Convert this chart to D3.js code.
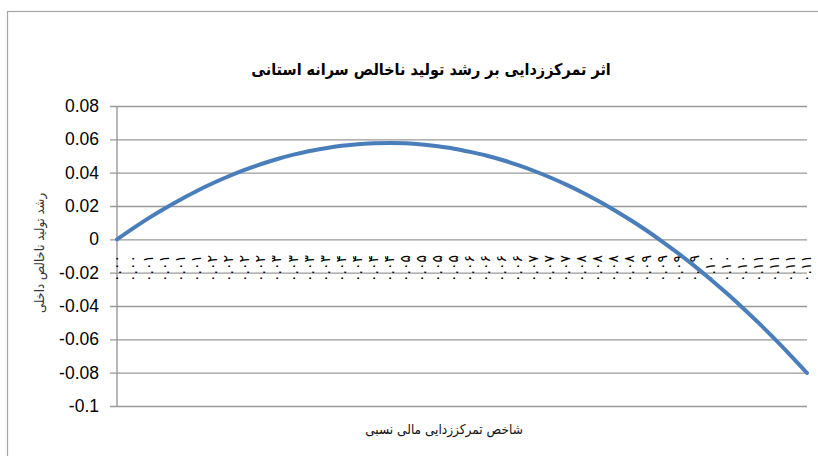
<!DOCTYPE html>
<html>
<head>
<meta charset="utf-8">
<script src="https://cdn.jsdelivr.net/npm/d3@7"></script>
<style>
  body { margin: 0; background: #fff; }
  svg { display: block; }
</style>
</head>
<body>
<div class="graph"></div>
<script>
// category labels along the x axis (rounded index values)
const xLabels = [
  "۰.۰۰","۰.۰۰",
  "۰.۰۱","۰.۰۱","۰.۰۱","۰.۰۱",
  "۰.۰۲","۰.۰۲","۰.۰۲","۰.۰۲",
  "۰.۰۳","۰.۰۳","۰.۰۳","۰.۰۳",
  "۰.۰۴","۰.۰۴","۰.۰۴","۰.۰۴",
  "۰.۰۵","۰.۰۵","۰.۰۵","۰.۰۵",
  "۰.۰۶","۰.۰۶","۰.۰۶","۰.۰۶",
  "۰.۰۷","۰.۰۷","۰.۰۷",
  "۰.۰۸","۰.۰۸","۰.۰۸","۰.۰۸",
  "۰.۰۹","۰.۰۹","۰.۰۹","۰.۰۹",
  "۰.۱۰","۰.۱۰","۰.۱۰",
  "۰.۱۱","۰.۱۱","۰.۱۱","۰.۱۱"
];

// growth values
const growth = [
  0, 0.0066, 0.0129, 0.0187, 0.0241, 0.0292, 0.0338, 0.0380, 0.0418, 0.0452,
  0.0482, 0.0508, 0.0530, 0.0547, 0.0561, 0.0571, 0.0576, 0.0578, 0.0576, 0.0569,
  0.0558, 0.0544, 0.0525, 0.0503, 0.0476, 0.0445, 0.0410, 0.0371, 0.0328, 0.0281,
  0.0230, 0.0175, 0.0116, 0.0053, -0.0015, -0.0086, -0.0161, -0.0241, -0.0324, -0.0412,
  -0.0503, -0.0599, -0.0699, -0.0802
];

const yTicks = [0.08, 0.06, 0.04, 0.02, 0, -0.02, -0.04, -0.06, -0.08, -0.1];
const yTickLabels = ["0.08", "0.06", "0.04", "0.02", "0", "-0.02", "-0.04", "-0.06", "-0.08", "-0.1"];

const chartTitle = "اثر تمرکززدایی بر رشد تولید ناخالص سرانه استانی";
const xTitle = "شاخص تمرکززدایی مالی نسبی";
const yTitle = "رشد تولید ناخالص داخلی";

let width = 818;
let height = 456;
let plotLeft = 117, plotRight = 807, plotTop = 106, plotBottom = 406;

let svg = d3.select(".graph")
  .append("svg")
  .attr("width", width)
  .attr("height", height);

// chart area border
svg.append("rect")
  .attr("x", 7.5).attr("y", 11.5)
  .attr("width", 840).attr("height", 480)
  .attr("fill", "none")
  .attr("stroke", "#a6a6a6")
  .attr("stroke-width", 1.2);

let x = d3.scalePoint()
  .domain(d3.range(growth.length))
  .range([plotLeft, plotRight]);

let y = d3.scaleLinear()
  .domain([-0.1, 0.08])
  .range([plotBottom, plotTop]);

// gridlines + tick marks
let yAxis = d3.axisLeft(y)
  .tickValues(yTicks)
  .tickSize(-(plotRight - plotLeft))
  .tickSizeOuter(0)
  .tickPadding(18)
  .tickFormat((d, i) => yTickLabels[i]);

let gy = svg.append("g")
  .attr("transform", "translate(" + plotLeft + ",0)")
  .call(yAxis);

gy.select(".domain").remove();
gy.selectAll(".tick line")
  .attr("x1", -7)
  .attr("stroke", "#999")
  .attr("stroke-width", 1.4);
gy.selectAll(".tick text")
  .attr("font-family", "Liberation Sans, Arial, sans-serif")
  .attr("font-size", 17.5)
  .attr("fill", "#000");

// vertical axis line
svg.append("line")
  .attr("x1", plotLeft).attr("x2", plotLeft)
  .attr("y1", plotTop).attr("y2", plotBottom)
  .attr("stroke", "#999")
  .attr("stroke-width", 1.4);

// category labels, rotated, reading upward from below the -0.02 line
svg.append("g")
  .selectAll("text")
  .data(xLabels)
  .enter()
  .append("text")
  .attr("transform", (d, i) => "translate(" + (x(i) + 4) + ",282) rotate(-90)")
  .attr("text-anchor", "start")
  .attr("font-family", "DejaVu Sans, sans-serif")
  .attr("font-size", 14)
  .attr("letter-spacing", 4)
  .attr("fill", "#000")
  .text(d => d);

// the curve
let line = d3.line()
  .x((d, i) => x(i))
  .y(d => y(d))
  .curve(d3.curveCatmullRom);

svg.append("path")
  .datum(growth)
  .attr("d", line)
  .attr("fill", "none")
  .attr("stroke", "#4a7ebb")
  .attr("stroke-width", 4)
  .attr("stroke-linecap", "round");

// titles
svg.append("text")
  .attr("x", 431).attr("y", 75)
  .attr("text-anchor", "middle")
  .attr("font-family", "DejaVu Sans Condensed, DejaVu Sans, sans-serif")
  .attr("font-stretch", "condensed")
  .attr("font-weight", "bold")
  .attr("font-size", 16)
  .attr("fill", "#000")
  .text(chartTitle);

svg.append("text")
  .attr("x", 444).attr("y", 434)
  .attr("text-anchor", "middle")
  .attr("font-family", "DejaVu Sans Condensed, DejaVu Sans, sans-serif")
  .attr("font-stretch", "condensed")
  .attr("font-size", 13.5)
  .attr("fill", "#111")
  .text(xTitle);

svg.append("text")
  .attr("transform", "translate(39,253) rotate(-90)")
  .attr("text-anchor", "middle")
  .attr("dominant-baseline", "central")
  .attr("font-family", "DejaVu Sans Condensed, DejaVu Sans, sans-serif")
  .attr("font-stretch", "condensed")
  .attr("font-size", 13)
  .attr("fill", "#333")
  .text(yTitle);
</script>
</body>
</html>
